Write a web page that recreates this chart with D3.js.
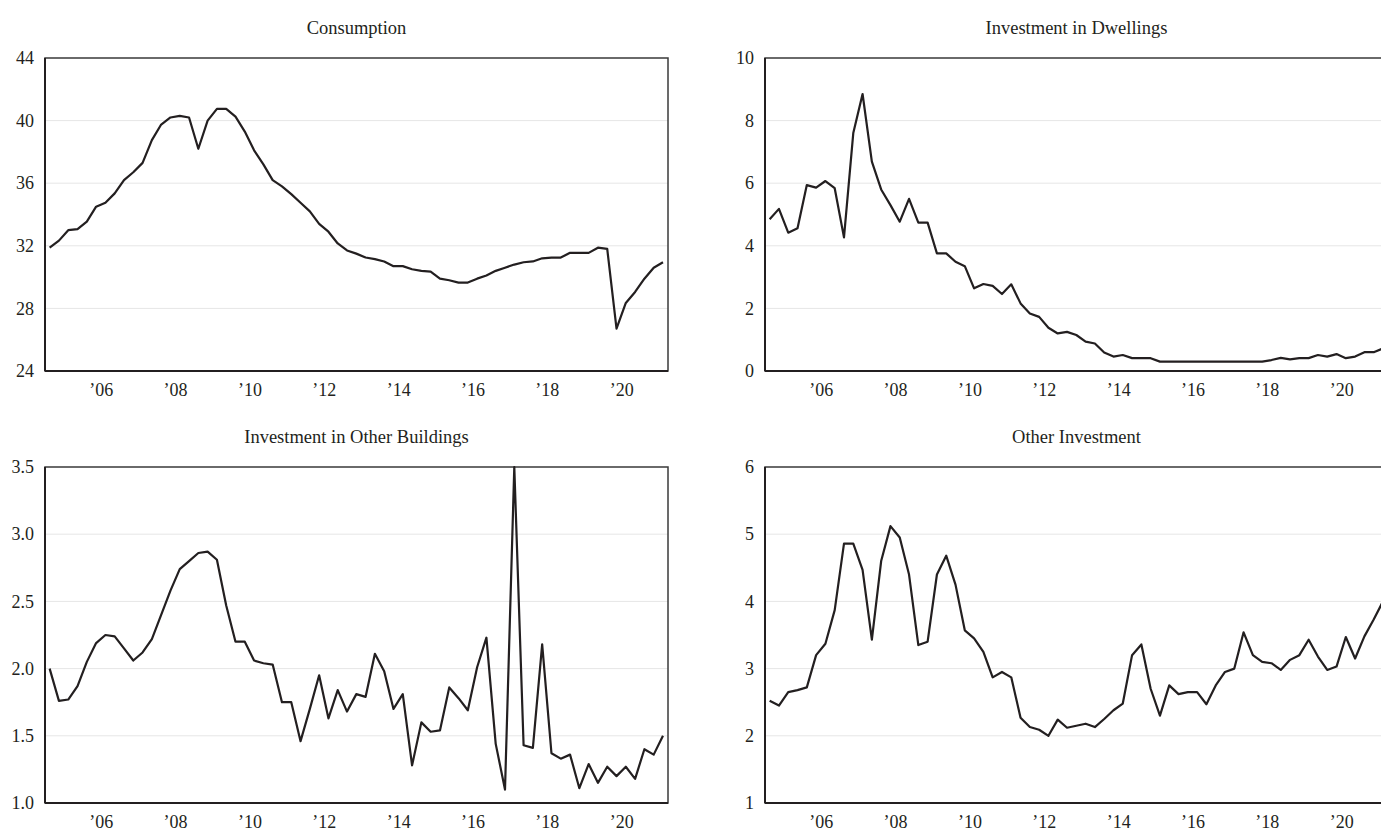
<!DOCTYPE html>
<html>
<head>
<meta charset="utf-8">
<script src="https://cdn.jsdelivr.net/npm/d3@7"></script>
<style>
  body { margin: 0; background: #fff; }
  svg { display: block; font-family: "Liberation Serif", "Times New Roman", serif; }
  .tick text { fill: #231f20; font-size: 18px; font-family: "Liberation Serif", serif; }
  .title { fill: #231f20; font-size: 18.5px; text-anchor: middle; }
</style>
</head>
<body>
<div id="chart"></div>
<script>
// quarterly data, 2005Q1 .. 2021Q3
var years = d3.range(2005, 2022)
var quarters = []
years.forEach(function(y){ for (var q=1;q<=4;q++) quarters.push(y + "Q" + q) })
quarters = quarters.slice(0, 67)

var yearTicks = [2006, 2008, 2010, 2012, 2014, 2016, 2018, 2020]
var yearLabels = ["’06","’08","’10","’12","’14","’16","’18","’20"]

var consumption = [31.88,32.33,33.0,33.07,33.55,34.5,34.75,35.35,36.2,36.7,37.3,38.75,39.75,40.2,40.3,40.2,
  38.2,40.0,40.75,40.75,40.25,39.3,38.1,37.2,36.2,35.8,35.3,34.75,34.2,33.4,32.9,32.15,31.7,31.5,31.25,31.15,
  31.0,30.7,30.7,30.5,30.4,30.35,29.9,29.8,29.65,29.65,29.9,30.1,30.4,30.6,30.8,30.95,31.0,31.2,31.25,31.25,
  31.55,31.55,31.55,31.88,31.8,26.7,28.35,29.05,29.9,30.6,30.95]

var dwellings = [4.85,5.18,4.42,4.56,5.94,5.86,6.07,5.84,4.27,7.6,8.85,6.69,5.8,5.3,4.77,5.5,4.74,4.74,
  3.76,3.76,3.49,3.35,2.64,2.78,2.72,2.46,2.77,2.16,1.84,1.73,1.38,1.2,1.25,1.15,0.94,0.88,0.59,0.46,0.51,
  0.41,0.41,0.41,0.3,0.3,0.3,0.3,0.3,0.3,0.3,0.3,0.3,0.3,0.3,0.3,0.35,0.42,0.37,0.41,0.41,0.51,0.46,0.54,
  0.41,0.46,0.6,0.6,0.72]

var otherBuildings = [2.0,1.76,1.77,1.87,2.05,2.19,2.25,2.24,2.15,2.06,2.12,2.22,2.4,2.58,2.74,2.8,2.86,2.87,
  2.81,2.47,2.2,2.2,2.06,2.04,2.03,1.75,1.75,1.46,1.7,1.95,1.63,1.84,1.68,1.81,1.79,2.11,1.98,1.7,1.81,1.28,
  1.6,1.53,1.54,1.86,1.78,1.69,2.01,2.23,1.44,1.1,3.5,1.43,1.41,2.18,1.37,1.33,1.36,1.11,1.29,1.15,1.27,1.2,
  1.27,1.18,1.4,1.36,1.5]

var otherInvestment = [2.52,2.45,2.65,2.68,2.72,3.2,3.37,3.87,4.86,4.86,4.47,3.43,4.6,5.12,4.95,4.4,3.35,3.4,
  4.4,4.68,4.25,3.57,3.45,3.25,2.87,2.95,2.87,2.27,2.13,2.09,2.0,2.24,2.12,2.15,2.18,2.13,2.25,2.38,2.48,3.2,
  3.36,2.7,2.3,2.75,2.62,2.65,2.65,2.47,2.75,2.95,3.0,3.54,3.2,3.1,3.08,2.98,3.13,3.2,3.43,3.18,2.98,3.03,
  3.47,3.15,3.48,3.73,4.0]

var titles = ["Consumption", "Investment in Dwellings", "Investment in Other Buildings", "Other Investment"]
var series = [consumption, dwellings, otherBuildings, otherInvestment]
var yDomains = [[24, 44], [0, 10], [1, 3.5], [1, 6]]
var yTicks = [[24,28,32,36,40,44], [0,2,4,6,8,10], [1,1.5,2,2.5,3,3.5], [1,2,3,4,5,6]]
var yFormats = [d3.format("d"), d3.format("d"), d3.format(".1f"), d3.format("d")]

var svgWidth = 1381, svgHeight = 833
var panelW = 623
var panels = [
  {x: 45,  y: 58,  h: 313},
  {x: 765, y: 58,  h: 313},
  {x: 45,  y: 467, h: 336},
  {x: 765, y: 467, h: 336}
]

var svg = d3.select("#chart").append("svg")
  .attr("width", svgWidth)
  .attr("height", svgHeight)

// time of each quarter (mid-quarter)
function qTime(i) { return 2005 + i / 4 + 0.125 }

var xScale = d3.scaleLinear()
  .domain([2005, 2021.76])
  .range([0, panelW])

panels.forEach(function(p, k){
  var g = svg.append("g").attr("transform", `translate(${p.x},${p.y})`)

  var yScale = d3.scaleLinear()
    .domain(yDomains[k])
    .range([p.h, 0])

  // grid lines
  g.append("g")
    .selectAll("line")
    .data(yTicks[k].slice(1, -1))
    .join("line")
    .attr("x1", 0).attr("x2", panelW)
    .attr("y1", d => yScale(d)).attr("y2", d => yScale(d))
    .attr("stroke", "#e6e6e6")
    .attr("stroke-width", 1)

  // frame (top / right)
  g.append("rect")
    .attr("width", panelW).attr("height", p.h)
    .attr("fill", "none")
    .attr("stroke", "#3a3a3a")
    .attr("stroke-width", 1.5)

  // y axis
  var yAxis = d3.axisLeft(yScale).tickValues(yTicks[k]).tickFormat(yFormats[k]).tickSize(0).tickPadding(11)
  var ya = g.append("g").call(yAxis)
    .attr("font-family", null).attr("font-size", null)
  ya.select(".domain").remove()

  // x axis
  var xAxis = d3.axisBottom(xScale)
    .tickValues(yearTicks.map(d => d + 0.5))
    .tickFormat((d, i) => yearLabels[i])
    .tickSize(0).tickPadding(12)
  var xa = g.append("g").attr("transform", `translate(0,${p.h})`).call(xAxis)
    .attr("font-family", null).attr("font-size", null)
  xa.select(".domain").remove()

  // left + bottom axis lines
  g.append("line").attr("x1", 0).attr("x2", 0).attr("y1", 0).attr("y2", p.h)
    .attr("stroke", "#231f20").attr("stroke-width", 2)
  g.append("line").attr("x1", 0).attr("x2", panelW).attr("y1", p.h).attr("y2", p.h)
    .attr("stroke", "#231f20").attr("stroke-width", 2)

  // the line
  var line = d3.line()
    .x((d, i) => xScale(qTime(i)))
    .y(d => yScale(d))

  g.append("path")
    .datum(series[k])
    .attr("d", line)
    .attr("fill", "none")
    .attr("stroke", "#231f20")
    .attr("stroke-width", 2.2)
    .attr("stroke-linejoin", "round")

  // title
  g.append("text")
    .attr("class", "title")
    .attr("x", panelW / 2)
    .attr("y", -24)
    .text(titles[k])
})
</script>
</body>
</html>
